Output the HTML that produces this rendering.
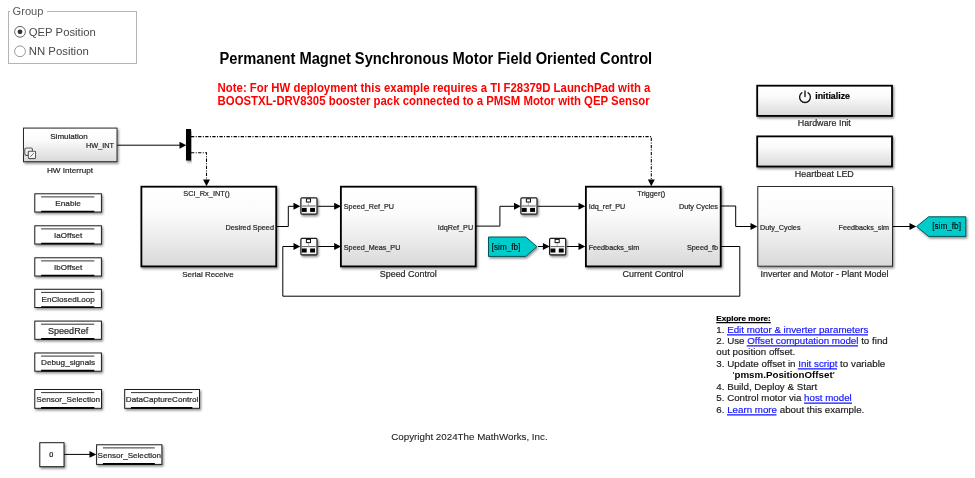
<!DOCTYPE html>
<html lang="en"><head><meta charset="utf-8"><title>PMSM Field Oriented Control</title>
<style>html,body{margin:0;padding:0;background:#fff}body{width:975px;height:478px;overflow:hidden}svg{display:block;will-change:transform;font-family:"Liberation Sans",Arial,sans-serif}</style>
</head><body>
<svg width="975" height="478" viewBox="0 0 975 478">
<defs>
<linearGradient id="g" x1="0" y1="0" x2="0" y2="1"><stop offset="0" stop-color="#ffffff"/><stop offset="0.35" stop-color="#fbfbfb"/><stop offset="1" stop-color="#d9d9d9"/></linearGradient>
<linearGradient id="g2" x1="0" y1="0" x2="0" y2="1"><stop offset="0" stop-color="#ffffff"/><stop offset="0.6" stop-color="#fdfdfd"/><stop offset="1" stop-color="#ececec"/></linearGradient>
<filter id="sh" x="-10%" y="-10%" width="130%" height="140%"><feDropShadow dx="1.2" dy="1.6" stdDeviation="1.1" flood-color="#000" flood-opacity="0.45"/></filter>
</defs>
<rect width="975" height="478" fill="#fff"/>
<rect x="8.5" y="11.5" width="128" height="52" fill="none" stroke="#b4b4b4" stroke-width="1"/>
<rect x="10" y="5" width="37" height="12" fill="#fff"/>
<text x="12.5" y="14.7" font-size="11.3" text-anchor="start" font-weight="normal" fill="#5a5a5a" stroke="#5a5a5a" stroke-width="0" textLength="31" lengthAdjust="spacingAndGlyphs" >Group</text>
<circle cx="20" cy="31.8" r="5.4" fill="#fff" stroke="#666" stroke-width="1"/>
<circle cx="20" cy="31.8" r="2.4" fill="#333"/>
<circle cx="20" cy="51.3" r="5.4" fill="#fff" stroke="#999" stroke-width="1"/>
<text x="28.8" y="35.8" font-size="11.3" text-anchor="start" font-weight="normal" fill="#4a4a4a" stroke="#4a4a4a" stroke-width="0" textLength="67" lengthAdjust="spacingAndGlyphs" >QEP Position</text>
<text x="28.8" y="55.0" font-size="11.3" text-anchor="start" font-weight="normal" fill="#4a4a4a" stroke="#4a4a4a" stroke-width="0" textLength="60" lengthAdjust="spacingAndGlyphs" >NN Position</text>
<text x="219.6" y="63.9" font-size="17.2" text-anchor="start" font-weight="bold" fill="#000" stroke="#000" stroke-width="0" textLength="432.6" lengthAdjust="spacingAndGlyphs" >Permanent Magnet Synchronous Motor Field Oriented Control</text>
<text x="217.6" y="91.8" font-size="12.3" text-anchor="start" font-weight="bold" fill="#f00" stroke="#f00" stroke-width="0" textLength="432.8" lengthAdjust="spacingAndGlyphs" >Note: For HW deployment this example requires a TI F28379D LaunchPad with a</text>
<text x="217.6" y="104.8" font-size="12.3" text-anchor="start" font-weight="bold" fill="#f00" stroke="#f00" stroke-width="0" textLength="432.1" lengthAdjust="spacingAndGlyphs" >BOOSTXL-DRV8305 booster pack connected to a PMSM Motor with QEP Sensor</text>
<polyline points="117,145.2 180,145.2" fill="none" stroke="#000" stroke-width="1"/>
<polygon points="186.3,145.2 179.5,141.75 179.5,148.64999999999998" fill="#000"/>
<rect x="186" y="129" width="5" height="31.5" fill="#000" filter="url(#sh)"/>
<polyline points="191,136.6 651.3,136.6 651.3,180" fill="none" stroke="#000" stroke-width="1.05" stroke-dasharray="3.3 1.4 1 1.4"/>
<polygon points="651.3,186.2 647.8499999999999,179.39999999999998 654.75,179.39999999999998" fill="#000"/>
<polyline points="191,152.8 206.5,152.8 206.5,180" fill="none" stroke="#000" stroke-width="1.05" stroke-dasharray="3.3 1.4 1 1.4"/>
<polygon points="206.5,186.2 203.05,179.39999999999998 209.95,179.39999999999998" fill="#000"/>
<polyline points="277,226.5 288.3,226.5 288.3,206.3 294,206.3" fill="none" stroke="#000" stroke-width="1"/>
<polygon points="300.3,206.3 293.5,202.85000000000002 293.5,209.75" fill="#000"/>
<polyline points="318,206.3 335,206.3" fill="none" stroke="#000" stroke-width="1"/>
<polygon points="341,206.3 334.2,202.85000000000002 334.2,209.75" fill="#000"/>
<polyline points="721,246.5 739.8,246.5 739.8,296.2 282.8,296.2 282.8,246.5 294,246.5" fill="none" stroke="#000" stroke-width="1"/>
<polygon points="300.3,246.5 293.5,243.05 293.5,249.95" fill="#000"/>
<polyline points="318,246.5 335,246.5" fill="none" stroke="#000" stroke-width="1"/>
<polygon points="341,246.5 334.2,243.05 334.2,249.95" fill="#000"/>
<polyline points="476,226.1 499.9,226.1 499.9,206.3 515,206.3" fill="none" stroke="#000" stroke-width="1"/>
<polygon points="520.8,206.3 514.0,202.85000000000002 514.0,209.75" fill="#000"/>
<polyline points="538,206.3 579,206.3" fill="none" stroke="#000" stroke-width="1"/>
<polygon points="585.3,206.3 578.5,202.85000000000002 578.5,209.75" fill="#000"/>
<polyline points="538,246.5 544,246.5" fill="none" stroke="#000" stroke-width="1"/>
<polygon points="549.7,246.5 542.9000000000001,243.05 542.9000000000001,249.95" fill="#000"/>
<polyline points="567,246.5 579,246.5" fill="none" stroke="#000" stroke-width="1"/>
<polygon points="585.3,246.5 578.5,243.05 578.5,249.95" fill="#000"/>
<polyline points="721,206 735.7,206 735.7,226.5 751,226.5" fill="none" stroke="#000" stroke-width="1"/>
<polygon points="757.3,226.5 750.5,223.05 750.5,229.95" fill="#000"/>
<polyline points="893,226.5 910,226.5" fill="none" stroke="#000" stroke-width="1"/>
<polygon points="916.3,226.5 909.5,223.05 909.5,229.95" fill="#000"/>
<polyline points="64,454.4 90,454.4" fill="none" stroke="#000" stroke-width="1"/>
<polygon points="96.3,454.4 89.5,450.95 89.5,457.84999999999997" fill="#000"/>
<rect x="23.5" y="128.1" width="93.5" height="33.6" rx="0" fill="url(#g)" stroke="#2b2b2b" stroke-width="1" filter="url(#sh)"/>
<text x="69" y="138.8" font-size="7.3" text-anchor="middle" font-weight="normal" fill="#2a2a2a" stroke="#2a2a2a" stroke-width="0.22" textLength="37.5" lengthAdjust="spacingAndGlyphs" >Simulation</text>
<text x="114" y="148.2" font-size="7.3" text-anchor="end" font-weight="normal" fill="#2a2a2a" stroke="#2a2a2a" stroke-width="0.22" textLength="28" lengthAdjust="spacingAndGlyphs" >HW_INT</text>
<g fill="#f6f6f6" stroke="#fff" stroke-width="1.9"><rect x="24.8" y="148" width="7.6" height="7.4" rx="1.3"/><rect x="28.3" y="151.3" width="7.3" height="7.3" rx="0.8"/></g>
<g fill="#f2f2f2" stroke="#555" stroke-width="1.1"><rect x="24.8" y="148" width="7.6" height="7.4" rx="1.3"/><rect x="28.3" y="151.3" width="7.3" height="7.3" rx="0.8"/><path d="M30.2,156.8 L33.8,153.2" fill="none" stroke="#666" stroke-width="0.9"/></g>
<text x="70" y="173.2" font-size="8" text-anchor="middle" font-weight="normal" fill="#2a2a2a" stroke="#2a2a2a" stroke-width="0.22" textLength="46" lengthAdjust="spacingAndGlyphs" >HW Interrupt</text>
<rect x="141.4" y="186.70000000000002" width="134.79999999999998" height="79.7" rx="0" fill="url(#g)" stroke="#000" stroke-width="1.8" filter="url(#sh)"/>
<text x="206.5" y="195.5" font-size="7.3" text-anchor="middle" font-weight="normal" fill="#2a2a2a" stroke="#2a2a2a" stroke-width="0.22" textLength="46.5" lengthAdjust="spacingAndGlyphs" >SCI_Rx_INT()</text>
<text x="274" y="230.0" font-size="7.3" text-anchor="end" font-weight="normal" fill="#2a2a2a" stroke="#2a2a2a" stroke-width="0.22" textLength="48.5" lengthAdjust="spacingAndGlyphs" >Desired Speed</text>
<text x="208" y="276.7" font-size="8" text-anchor="middle" font-weight="normal" fill="#2a2a2a" stroke="#2a2a2a" stroke-width="0.22" textLength="51.5" lengthAdjust="spacingAndGlyphs" >Serial Receive</text>
<rect x="340.9" y="186.70000000000002" width="134.79999999999998" height="79.7" rx="0" fill="url(#g)" stroke="#000" stroke-width="1.8" filter="url(#sh)"/>
<text x="343.8" y="209.3" font-size="7.3" text-anchor="start" font-weight="normal" fill="#2a2a2a" stroke="#2a2a2a" stroke-width="0.22" textLength="50.2" lengthAdjust="spacingAndGlyphs" >Speed_Ref_PU</text>
<text x="343.8" y="249.9" font-size="7.3" text-anchor="start" font-weight="normal" fill="#2a2a2a" stroke="#2a2a2a" stroke-width="0.22" textLength="56.6" lengthAdjust="spacingAndGlyphs" >Speed_Meas_PU</text>
<text x="473.2" y="230.0" font-size="7.3" text-anchor="end" font-weight="normal" fill="#2a2a2a" stroke="#2a2a2a" stroke-width="0.22" textLength="35.5" lengthAdjust="spacingAndGlyphs" >IdqRef_PU</text>
<text x="408.3" y="277.2" font-size="8.9" text-anchor="middle" font-weight="normal" fill="#2a2a2a" stroke="#2a2a2a" stroke-width="0.22" textLength="57" lengthAdjust="spacingAndGlyphs" >Speed Control</text>
<rect x="585.9" y="186.70000000000002" width="134.79999999999998" height="79.7" rx="0" fill="url(#g)" stroke="#000" stroke-width="1.8" filter="url(#sh)"/>
<text x="651.3" y="195.9" font-size="7.3" text-anchor="middle" font-weight="normal" fill="#2a2a2a" stroke="#2a2a2a" stroke-width="0.22" textLength="28" lengthAdjust="spacingAndGlyphs" >Trigger()</text>
<text x="588.7" y="209.3" font-size="7.3" text-anchor="start" font-weight="normal" fill="#2a2a2a" stroke="#2a2a2a" stroke-width="0.22" textLength="36.5" lengthAdjust="spacingAndGlyphs" >Idq_ref_PU</text>
<text x="588.7" y="249.9" font-size="7.3" text-anchor="start" font-weight="normal" fill="#2a2a2a" stroke="#2a2a2a" stroke-width="0.22" textLength="50.5" lengthAdjust="spacingAndGlyphs" >Feedbacks_sim</text>
<text x="718" y="209.3" font-size="7.3" text-anchor="end" font-weight="normal" fill="#2a2a2a" stroke="#2a2a2a" stroke-width="0.22" textLength="39" lengthAdjust="spacingAndGlyphs" >Duty Cycles</text>
<text x="718" y="249.9" font-size="7.3" text-anchor="end" font-weight="normal" fill="#2a2a2a" stroke="#2a2a2a" stroke-width="0.22" textLength="31" lengthAdjust="spacingAndGlyphs" >Speed_fb</text>
<text x="653" y="277.2" font-size="8.9" text-anchor="middle" font-weight="normal" fill="#2a2a2a" stroke="#2a2a2a" stroke-width="0.22" textLength="61" lengthAdjust="spacingAndGlyphs" >Current Control</text>
<rect x="757.8" y="186.5" width="134.7" height="79.7" rx="0" fill="url(#g)" stroke="#2b2b2b" stroke-width="1" filter="url(#sh)"/>
<text x="760" y="230.0" font-size="7.3" text-anchor="start" font-weight="normal" fill="#2a2a2a" stroke="#2a2a2a" stroke-width="0.22" textLength="40.5" lengthAdjust="spacingAndGlyphs" >Duty_Cycles</text>
<text x="889" y="230.0" font-size="7.3" text-anchor="end" font-weight="normal" fill="#2a2a2a" stroke="#2a2a2a" stroke-width="0.22" textLength="50.5" lengthAdjust="spacingAndGlyphs" >Feedbacks_sim</text>
<text x="824.5" y="277.2" font-size="8.9" text-anchor="middle" font-weight="normal" fill="#2a2a2a" stroke="#2a2a2a" stroke-width="0.22" textLength="128" lengthAdjust="spacingAndGlyphs" >Inverter and Motor - Plant Model</text>
<rect x="757.1999999999999" y="85.7" width="134.79999999999998" height="30.2" rx="0" fill="url(#g)" stroke="#000" stroke-width="1.8" filter="url(#sh)"/>
<g fill="none" stroke="#111" stroke-width="1.35" stroke-linecap="round"><path d="M801.9,92.7 A5.4,5.4 0 1 0 808.1,92.7"/><path d="M805,91V96.6"/></g>
<text x="815.2" y="99.3" font-size="8.8" text-anchor="start" font-weight="bold" fill="#000" stroke="#000" stroke-width="0.22" textLength="34.8" lengthAdjust="spacingAndGlyphs" >initialize</text>
<text x="824.3" y="126.2" font-size="8.9" text-anchor="middle" font-weight="normal" fill="#2a2a2a" stroke="#2a2a2a" stroke-width="0.22" textLength="53" lengthAdjust="spacingAndGlyphs" >Hardware Init</text>
<rect x="757.1999999999999" y="136.4" width="134.79999999999998" height="30.099999999999998" rx="0" fill="url(#g)" stroke="#000" stroke-width="1.8" filter="url(#sh)"/>
<text x="824.3" y="176.8" font-size="8.9" text-anchor="middle" font-weight="normal" fill="#2a2a2a" stroke="#2a2a2a" stroke-width="0.22" textLength="59" lengthAdjust="spacingAndGlyphs" >Heartbeat LED</text>
<rect x="300.90000000000003" y="197.79999999999998" width="16.1" height="16.400000000000002" rx="1.1" fill="url(#g2)" stroke="#1c1c1c" stroke-width="1.2" filter="url(#sh)"/>
<g transform="translate(300.3,197.2)">
<path d="M1.6,8.8H15.4" stroke="#4a4a4a" stroke-width="0.9" fill="none"/>
<path d="M8.1,5V8.6" stroke="#999" stroke-width="0.7" fill="none"/>
<rect x="6.1" y="1.6" width="4.1" height="3.2" fill="#fff" stroke="#111" stroke-width="1"/>
<rect x="1.5" y="10.7" width="4.9" height="4" fill="#000"/>
<rect x="9.8" y="10.7" width="4.9" height="4" fill="#000"/>
</g>
<rect x="300.90000000000003" y="238.4" width="16.1" height="16.400000000000002" rx="1.1" fill="url(#g2)" stroke="#1c1c1c" stroke-width="1.2" filter="url(#sh)"/>
<g transform="translate(300.3,237.8)">
<path d="M1.6,8.8H15.4" stroke="#4a4a4a" stroke-width="0.9" fill="none"/>
<path d="M8.1,5V8.6" stroke="#999" stroke-width="0.7" fill="none"/>
<rect x="6.1" y="1.6" width="4.1" height="3.2" fill="#fff" stroke="#111" stroke-width="1"/>
<rect x="1.5" y="10.7" width="4.9" height="4" fill="#000"/>
<rect x="9.8" y="10.7" width="4.9" height="4" fill="#000"/>
</g>
<rect x="520.9" y="197.79999999999998" width="16.1" height="16.400000000000002" rx="1.1" fill="url(#g2)" stroke="#1c1c1c" stroke-width="1.2" filter="url(#sh)"/>
<g transform="translate(520.3,197.2)">
<path d="M1.6,8.8H15.4" stroke="#4a4a4a" stroke-width="0.9" fill="none"/>
<path d="M8.1,5V8.6" stroke="#999" stroke-width="0.7" fill="none"/>
<rect x="6.1" y="1.6" width="4.1" height="3.2" fill="#fff" stroke="#111" stroke-width="1"/>
<rect x="1.5" y="10.7" width="4.9" height="4" fill="#000"/>
<rect x="9.8" y="10.7" width="4.9" height="4" fill="#000"/>
</g>
<rect x="549.6" y="238.4" width="16.1" height="16.400000000000002" rx="1.1" fill="url(#g2)" stroke="#1c1c1c" stroke-width="1.2" filter="url(#sh)"/>
<g transform="translate(549.0,237.8)">
<path d="M1.6,8.8H15.4" stroke="#4a4a4a" stroke-width="0.9" fill="none"/>
<path d="M8.1,5V8.6" stroke="#999" stroke-width="0.7" fill="none"/>
<rect x="6.1" y="1.6" width="4.1" height="3.2" fill="#fff" stroke="#111" stroke-width="1"/>
<rect x="1.5" y="10.7" width="4.9" height="4" fill="#000"/>
<rect x="9.8" y="10.7" width="4.9" height="4" fill="#000"/>
</g>
<polygon points="488.5,237 525.6,237 536.9,246.7 525.6,256.4 488.5,256.4" fill="#00cccc" stroke="#055" stroke-width="1" filter="url(#sh)"/>
<text x="506" y="249.6" font-size="8.5" text-anchor="middle" font-weight="normal" fill="#000" stroke="#000" stroke-width="0.1" textLength="28.5" lengthAdjust="spacingAndGlyphs" >[sim_fb]</text>
<polygon points="916.6,226.5 928.6,216.8 965.8,216.8 965.8,236.4 928.6,236.4" fill="#00cccc" stroke="#055" stroke-width="1" filter="url(#sh)"/>
<text x="946.6" y="229.3" font-size="8.5" text-anchor="middle" font-weight="normal" fill="#000" stroke="#000" stroke-width="0.1" textLength="28.8" lengthAdjust="spacingAndGlyphs" >[sim_fb]</text>
<rect x="34.8" y="193.8" width="66.6" height="18.2" rx="0" fill="#fff" stroke="#1c1c1c" stroke-width="1" filter="url(#sh)"/>
<path d="M41.099999999999994,196.9H94.3" stroke="#333" stroke-width="1" fill="none"/>
<path d="M41.099999999999994,211.5H94.3" stroke="#000" stroke-width="1.7" fill="none"/>
<text x="68.1" y="206.1" font-size="8.1" text-anchor="middle" font-weight="normal" fill="#2a2a2a" stroke="#2a2a2a" stroke-width="0.22" textLength="25.6" lengthAdjust="spacingAndGlyphs" >Enable</text>
<rect x="34.8" y="225.8" width="66.6" height="18.2" rx="0" fill="#fff" stroke="#1c1c1c" stroke-width="1" filter="url(#sh)"/>
<path d="M41.099999999999994,228.9H94.3" stroke="#333" stroke-width="1" fill="none"/>
<path d="M41.099999999999994,243.5H94.3" stroke="#000" stroke-width="1.7" fill="none"/>
<text x="68.1" y="238.1" font-size="8.1" text-anchor="middle" font-weight="normal" fill="#2a2a2a" stroke="#2a2a2a" stroke-width="0.22" textLength="28.1" lengthAdjust="spacingAndGlyphs" >IaOffset</text>
<rect x="34.8" y="257.8" width="66.6" height="18.2" rx="0" fill="#fff" stroke="#1c1c1c" stroke-width="1" filter="url(#sh)"/>
<path d="M41.099999999999994,260.90000000000003H94.3" stroke="#333" stroke-width="1" fill="none"/>
<path d="M41.099999999999994,275.5H94.3" stroke="#000" stroke-width="1.7" fill="none"/>
<text x="68.1" y="270.1" font-size="8.1" text-anchor="middle" font-weight="normal" fill="#2a2a2a" stroke="#2a2a2a" stroke-width="0.22" textLength="28.1" lengthAdjust="spacingAndGlyphs" >IbOffset</text>
<rect x="34.8" y="289.3" width="66.6" height="18.2" rx="0" fill="#fff" stroke="#1c1c1c" stroke-width="1" filter="url(#sh)"/>
<path d="M41.099999999999994,292.40000000000003H94.3" stroke="#333" stroke-width="1" fill="none"/>
<path d="M41.099999999999994,307.0H94.3" stroke="#000" stroke-width="1.7" fill="none"/>
<text x="68.1" y="301.6" font-size="8.1" text-anchor="middle" font-weight="normal" fill="#2a2a2a" stroke="#2a2a2a" stroke-width="0.22" textLength="53.2" lengthAdjust="spacingAndGlyphs" >EnClosedLoop</text>
<rect x="34.8" y="321.1" width="66.6" height="18.2" rx="0" fill="#fff" stroke="#1c1c1c" stroke-width="1" filter="url(#sh)"/>
<path d="M41.099999999999994,324.20000000000005H94.3" stroke="#333" stroke-width="1" fill="none"/>
<path d="M41.099999999999994,338.8H94.3" stroke="#000" stroke-width="1.7" fill="none"/>
<text x="68.1" y="333.90000000000003" font-size="9" text-anchor="middle" font-weight="normal" fill="#2a2a2a" stroke="#2a2a2a" stroke-width="0.22" textLength="40.2" lengthAdjust="spacingAndGlyphs" >SpeedRef</text>
<rect x="34.8" y="353.0" width="66.6" height="18.2" rx="0" fill="#fff" stroke="#1c1c1c" stroke-width="1" filter="url(#sh)"/>
<path d="M41.099999999999994,356.1H94.3" stroke="#333" stroke-width="1" fill="none"/>
<path d="M41.099999999999994,370.7H94.3" stroke="#000" stroke-width="1.7" fill="none"/>
<text x="68.1" y="365.3" font-size="8.1" text-anchor="middle" font-weight="normal" fill="#2a2a2a" stroke="#2a2a2a" stroke-width="0.22" textLength="54" lengthAdjust="spacingAndGlyphs" >Debug_signals</text>
<rect x="34.8" y="389.5" width="66.7" height="18.8" rx="0" fill="#fff" stroke="#1c1c1c" stroke-width="1" filter="url(#sh)"/>
<path d="M41.099999999999994,392.6H94.4" stroke="#333" stroke-width="1" fill="none"/>
<path d="M41.099999999999994,407.8H94.4" stroke="#000" stroke-width="1.7" fill="none"/>
<text x="68.15" y="402.09999999999997" font-size="8.1" text-anchor="middle" font-weight="normal" fill="#2a2a2a" stroke="#2a2a2a" stroke-width="0.22" textLength="63.8" lengthAdjust="spacingAndGlyphs" >Sensor_Selection</text>
<rect x="124.7" y="389.5" width="74.8" height="18.8" rx="0" fill="#fff" stroke="#1c1c1c" stroke-width="1" filter="url(#sh)"/>
<path d="M131.0,392.6H192.4" stroke="#333" stroke-width="1" fill="none"/>
<path d="M131.0,407.8H192.4" stroke="#000" stroke-width="1.7" fill="none"/>
<text x="162.1" y="402.09999999999997" font-size="8.1" text-anchor="middle" font-weight="normal" fill="#2a2a2a" stroke="#2a2a2a" stroke-width="0.22" textLength="72.5" lengthAdjust="spacingAndGlyphs" >DataCaptureControl</text>
<rect x="39.8" y="442.7" width="24.2" height="24" rx="0" fill="#fff" stroke="#1c1c1c" stroke-width="1" filter="url(#sh)"/>
<text x="51.2" y="456.8" font-size="7.3" text-anchor="middle" font-weight="normal" fill="#111" stroke="#111" stroke-width="0.22" >0</text>
<rect x="96.6" y="444.8" width="65.3" height="19.6" rx="0" fill="#fff" stroke="#1c1c1c" stroke-width="1" filter="url(#sh)"/>
<path d="M102.89999999999999,447.90000000000003H154.79999999999998" stroke="#333" stroke-width="1" fill="none"/>
<path d="M102.89999999999999,463.90000000000003H154.79999999999998" stroke="#000" stroke-width="1.7" fill="none"/>
<text x="129.25" y="457.8" font-size="8.1" text-anchor="middle" font-weight="normal" fill="#2a2a2a" stroke="#2a2a2a" stroke-width="0.22" textLength="63.5" lengthAdjust="spacingAndGlyphs" >Sensor_Selection</text>
<text x="716.3" y="321.1" font-size="8.1" text-anchor="start" font-weight="bold" fill="#000" stroke="#000" stroke-width="0.22" textLength="54.5" lengthAdjust="spacingAndGlyphs" >Explore more:</text>
<line x1="716.3" y1="322.7" x2="770.8" y2="322.7" stroke="#000" stroke-width="1.2"/>
<g font-size="9.77" fill="#1c1c1c" stroke="#1c1c1c" stroke-width="0.18">
<text x="716.3" y="332.9" textLength="152" lengthAdjust="spacingAndGlyphs">1. <tspan fill="#1414ff" stroke="#1414ff">Edit motor &amp; inverter parameters</tspan></text>
<text x="716.3" y="343.6" textLength="171.5" lengthAdjust="spacingAndGlyphs">2. Use <tspan fill="#1414ff" stroke="#1414ff">Offset computation model</tspan> to find</text>
<text x="716.3" y="355.3" textLength="79" lengthAdjust="spacingAndGlyphs">out position offset.</text>
<text x="716.3" y="366.8" textLength="169" lengthAdjust="spacingAndGlyphs">3. Update offset in <tspan fill="#1414ff" stroke="#1414ff">Init script</tspan> to variable</text>
<text x="732.6" y="378.1" textLength="102" lengthAdjust="spacingAndGlyphs">'<tspan font-weight="bold" fill="#000" stroke="none">pmsm.PositionOffset</tspan>'</text>
<text x="716.3" y="389.8" textLength="101" lengthAdjust="spacingAndGlyphs">4. Build, Deploy &amp; Start</text>
<text x="716.3" y="401.1" textLength="135.5" lengthAdjust="spacingAndGlyphs">5. Control motor via <tspan fill="#1414ff" stroke="#1414ff">host model</tspan></text>
<text x="716.3" y="412.7" textLength="148" lengthAdjust="spacingAndGlyphs">6. <tspan fill="#1414ff" stroke="#1414ff">Learn more</tspan> about this example.</text>
</g>
<line x1="727" y1="334.9" x2="868" y2="334.9" stroke="#1414ff" stroke-width="1.2"/>
<line x1="746.7" y1="345.9" x2="858" y2="345.9" stroke="#1414ff" stroke-width="1.2"/>
<line x1="797.8" y1="368.9" x2="837" y2="368.9" stroke="#1414ff" stroke-width="1.2"/>
<line x1="804" y1="403.2" x2="852" y2="403.2" stroke="#1414ff" stroke-width="1.2"/>
<line x1="727" y1="414.8" x2="776.5" y2="414.8" stroke="#1414ff" stroke-width="1.2"/>
<text x="391.3" y="440.1" font-size="9.78" text-anchor="start" font-weight="normal" fill="#222" stroke="#222" stroke-width="0.1" textLength="156.3" lengthAdjust="spacingAndGlyphs" >Copyright 2024The MathWorks, Inc.</text>
</svg></body></html>
